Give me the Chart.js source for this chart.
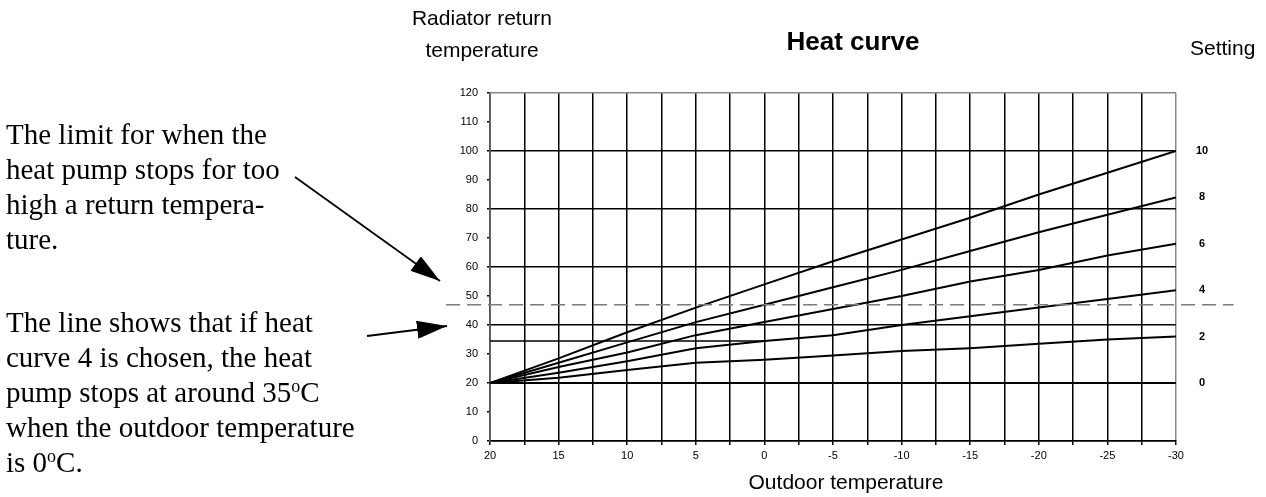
<!DOCTYPE html>
<html>
<head>
<meta charset="utf-8">
<script src="https://cdn.jsdelivr.net/npm/chart.js@4/dist/chart.umd.min.js"></script>
<style>
    body { margin: 0; background: #fff; }
    #wrap { position: relative; width: 1266px; height: 497px; overflow: hidden; }
    #chartBox { position: absolute; left: 0; top: 0; width: 1266px; height: 497px; }
    .lbl { position: absolute; font-family: "Liberation Sans", Arial, sans-serif; color: #000; white-space: nowrap; }
    .note { position: absolute; font-family: "Liberation Serif", "Times New Roman", serif; font-size: 29px; line-height: 35px; color: #000; white-space: nowrap; }
    .note sup { font-size: 18px; vertical-align: 10px; line-height: 0; }
    svg { position: absolute; left: 0; top: 0; }
</style>
</head>
<body>
<div id="wrap">
    <div id="chartBox"><canvas id="heatChart"></canvas></div>

    <div class="lbl" style="left:382px; top:2px; width:200px; text-align:center; font-size:21px; line-height:32px;">Radiator return<br>temperature</div>
    <div class="lbl" style="left:753px; top:26px; width:200px; text-align:center; font-size:26px; font-weight:bold;">Heat curve</div>
    <div class="lbl" style="left:1190px; top:36px; font-size:21px;">Setting</div>
    <div class="lbl" style="left:746px; top:470px; width:200px; text-align:center; font-size:21px;">Outdoor temperature</div>

    <div class="note" style="left:6px; top:117px;">The limit for when the<br>heat pump stops for too<br>high a return tempera-<br>ture.</div>
    <div class="note" style="left:6px; top:305px;">The line shows that if heat<br>curve 4 is chosen, the heat<br>pump stops at around 35<sup>o</sup>C<br>when the outdoor temperature<br>is 0<sup>o</sup>C.</div>

    <svg width="1266" height="497">
        <defs>
            <marker id="head" markerUnits="userSpaceOnUse" markerWidth="30" markerHeight="18" refX="30" refY="9" orient="auto">
                <path d="M0,0 L30,9 L0,18 z" fill="#000"></path>
            </marker>
        </defs>
        <line x1="295" y1="177" x2="440" y2="281" stroke="#000" stroke-width="1.8" marker-end="url(#head)"></line>
        <line x1="367" y1="336" x2="447" y2="326" stroke="#000" stroke-width="1.8" marker-end="url(#head)"></line>
    </svg>
</div>

<script>
// outdoor temperature (x) and return temperature per setting (y)
const outdoorTemps = [20, 15, 10, 5, 0, -5, -10, -15, -20, -25, -30];
const curve0  = [20, 20, 20, 20, 20, 20, 20, 20, 20, 20, 20];
const curve2  = [20, 21.8, 24.5, 27, 28, 29.5, 31, 32, 33.5, 35, 36];
const curve4  = [20, 23.5, 27.5, 32, 34.5, 36.5, 40, 43, 46, 49, 52];
const curve6  = [20, 25.5, 30.5, 36.5, 41, 45.5, 50, 55, 59, 64, 68];
const curve8  = [20, 27, 34, 41, 47, 53, 59, 65.5, 72, 78, 84];
const curve10 = [20, 28.5, 37.5, 46, 54, 62, 69.5, 77, 85, 92.5, 100];
const settingLabels = ['0', '2', '4', '6', '8', '10'];

// example line for curve 4 at 0 degrees outdoor
const exampleX = [20, 0];
const exampleY = [34.5, 34.5];

// stop limit (dashed), runs past the plot on both sides
const limitTemp = 47;
const limitFromX = 23.2;
const limitToX = -34.2;

const FONT = '"Liberation Sans", Arial, sans-serif';

function toPoints(xs, ys) {
    return xs.map((x, i) => ({ x: x, y: ys[i] }));
}

const curves = [curve0, curve2, curve4, curve6, curve8, curve10];
const datasets = curves.map((c, i) => ({
    label: 'Setting ' + settingLabels[i],
    setting: settingLabels[i],
    data: toPoints(outdoorTemps, c),
    borderColor: '#000',
    borderWidth: 2,
    pointRadius: 0,
    tension: 0,
    fill: false
}));
datasets.push({
    label: 'Example',
    data: toPoints(exampleX, exampleY),
    borderColor: '#000',
    borderWidth: 1.4,
    pointRadius: 0,
    fill: false
});

// dashed limit line + setting numbers at line ends
const extrasPlugin = {
    id: 'extras',
    afterDatasetsDraw(chart) {
        const { ctx, chartArea, scales } = chart;
        const y = scales.y.getPixelForValue(limitTemp);
        ctx.save();
        ctx.strokeStyle = '#7a7a7a';
        ctx.lineWidth = 1.5;
        ctx.setLineDash([14, 7]);
        ctx.beginPath();
        ctx.moveTo(scales.x.getPixelForValue(limitFromX), y);
        ctx.lineTo(scales.x.getPixelForValue(limitToX), y);
        ctx.stroke();
        ctx.setLineDash([]);

        ctx.fillStyle = '#000';
        ctx.font = 'bold 11px ' + FONT;
        ctx.textAlign = 'center';
        ctx.textBaseline = 'middle';
        chart.data.datasets.forEach(ds => {
            if (!ds.setting) return;
            const last = ds.data[ds.data.length - 1];
            ctx.fillText(ds.setting, chartArea.right + 26, scales.y.getPixelForValue(last.y));
        });
        ctx.restore();
    }
};

new Chart(document.getElementById('heatChart'), {
    type: 'line',
    data: { datasets: datasets },
    options: {
        responsive: true,
        maintainAspectRatio: false,
        animation: false,
        layout: { padding: { left: 460, right: 90, top: 93, bottom: 36 } },
        plugins: {
            legend: { display: false },
            tooltip: { enabled: false }
        },
        scales: {
            x: {
                type: 'linear',
                reverse: true,
                min: -30,
                max: 20,
                afterFit: (scale) => { scale.height = 20; },
                ticks: {
                    stepSize: 2.5,
                    autoSkip: false,
                    maxRotation: 0,
                    padding: 4,
                    color: '#000',
                    font: { family: FONT, size: 11 },
                    callback: (v) => (v % 5 === 0 ? String(v) : '')
                },
                grid: {
                    color: (c) => (c.tick && (c.tick.value === -30) ? '#888' : '#000'),
                    lineWidth: 1.5,
                    tickLength: 4,
                    tickColor: '#000'
                },
                border: { color: '#000', width: 1.5 }
            },
            y: {
                min: 0,
                max: 120,
                afterFit: (scale) => { scale.width = 30; },
                ticks: {
                    stepSize: 10,
                    padding: 9,
                    color: '#000',
                    font: { family: FONT, size: 11 }
                },
                grid: {
                    color: (c) => {
                        const v = c.tick ? c.tick.value : 0;
                        if (v === 120) return '#888';
                        return v % 20 === 0 ? '#000' : 'rgba(0,0,0,0)';
                    },
                    lineWidth: 1.5,
                    tickLength: 3,
                    tickColor: '#000'
                },
                border: { color: '#555', width: 1.5 }
            }
        }
    },
    plugins: [extrasPlugin]
});
</script>
</body>
</html>
